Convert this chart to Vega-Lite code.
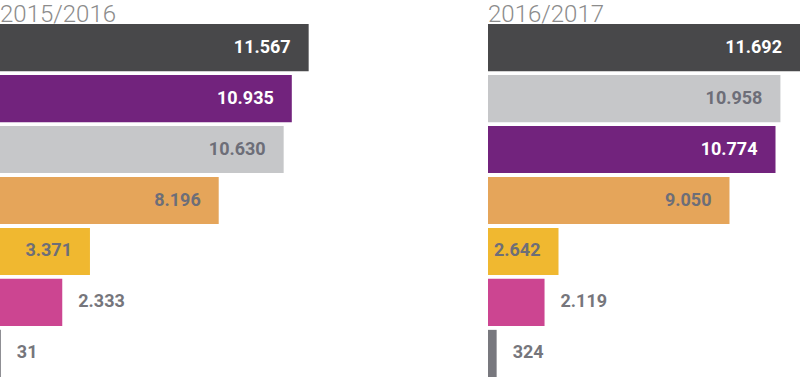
{
  "$schema": "https://vega.github.io/schema/vega-lite/v6.json",
  "padding": {"top": 3, "left": 0, "right": 0, "bottom": 0},
  "background": "white",
  "spacing": 176,
  "config": {
    "view": {"stroke": null},
    "locale": {"number": {"decimal": ",", "thousands": ".", "grouping": [3], "currency": ["", " €"]}}
  },
  "datasets": {
    "rows": [
      {"season": "2015/2016", "cat": "A", "value": 11567},
      {"season": "2015/2016", "cat": "B", "value": 10935},
      {"season": "2015/2016", "cat": "C", "value": 10630},
      {"season": "2015/2016", "cat": "D", "value": 8196},
      {"season": "2015/2016", "cat": "E", "value": 3371},
      {"season": "2015/2016", "cat": "F", "value": 2333},
      {"season": "2015/2016", "cat": "G", "value": 31},
      {"season": "2016/2017", "cat": "A", "value": 11692},
      {"season": "2016/2017", "cat": "C", "value": 10958},
      {"season": "2016/2017", "cat": "B", "value": 10774},
      {"season": "2016/2017", "cat": "D", "value": 9050},
      {"season": "2016/2017", "cat": "E", "value": 2642},
      {"season": "2016/2017", "cat": "F", "value": 2119},
      {"season": "2016/2017", "cat": "G", "value": 324}
    ]
  },
  "hconcat": [
    {
      "title": {"text": "2015/2016", "anchor": "start", "fontSize": 24, "font": "Roboto", "fontWeight": 300, "color": "#8c8c8c", "offset": -3},
      "width": 312,
      "height": 353,
      "data": {"name": "rows"},
      "transform": [{"filter": "datum.season == '2015/2016'"}],
      "encoding": {
        "y": {"field": "cat", "type": "nominal", "sort": ["A","B","C","D","E","F","G"], "axis": null, "scale": {"paddingInner": 0.075, "paddingOuter": 0}},
        "x": {"field": "value", "type": "quantitative", "axis": null, "scale": {"domain": [0, 11692], "nice": false}}
      },
      "layer": [
        {"mark": {"type": "bar", "cornerRadius": 0},
         "encoding": {"color": {"field": "cat", "type": "nominal", "legend": null, "scale": {"domain": ["A","B","C","D","E","F","G"], "range": ["#48484a","#72237d","#c6c7c9","#e5a55a","#f0b830","#cc4591","#78787e"]}}}},
        {"transform": [{"filter": "datum.value >= 2500"}],
         "mark": {"type": "text", "align": "right", "dx": -18, "font": "Roboto", "fontWeight": "bold", "fontSize": 18},
         "encoding": {"text": {"field": "value", "type": "quantitative", "format": ",d"},
           "color": {"condition": {"test": "datum.cat == 'A' || datum.cat == 'B'", "value": "#ffffff"}, "value": "#6d6e78"}}},
        {"transform": [{"filter": "datum.value < 2500"}],
         "mark": {"type": "text", "align": "left", "dx": 16, "font": "Roboto", "fontWeight": "bold", "fontSize": 18, "color": "#76767c"},
         "encoding": {"text": {"field": "value", "type": "quantitative", "format": ",d"}}}
      ]
    },
    {
      "title": {"text": "2016/2017", "anchor": "start", "fontSize": 24, "font": "Roboto", "fontWeight": 300, "color": "#8c8c8c", "offset": -3},
      "width": 312,
      "height": 353,
      "data": {"name": "rows"},
      "transform": [{"filter": "datum.season == '2016/2017'"}],
      "encoding": {
        "y": {"field": "cat", "type": "nominal", "sort": ["A","C","B","D","E","F","G"], "axis": null, "scale": {"paddingInner": 0.075, "paddingOuter": 0}},
        "x": {"field": "value", "type": "quantitative", "axis": null, "scale": {"domain": [0, 11692], "nice": false}}
      },
      "layer": [
        {"mark": {"type": "bar", "cornerRadius": 0},
         "encoding": {"color": {"field": "cat", "type": "nominal", "legend": null, "scale": {"domain": ["A","B","C","D","E","F","G"], "range": ["#48484a","#72237d","#c6c7c9","#e5a55a","#f0b830","#cc4591","#78787e"]}}}},
        {"transform": [{"filter": "datum.value >= 2500"}],
         "mark": {"type": "text", "align": "right", "dx": -18, "font": "Roboto", "fontWeight": "bold", "fontSize": 18},
         "encoding": {"text": {"field": "value", "type": "quantitative", "format": ",d"},
           "color": {"condition": {"test": "datum.cat == 'A' || datum.cat == 'B'", "value": "#ffffff"}, "value": "#6d6e78"}}},
        {"transform": [{"filter": "datum.value < 2500"}],
         "mark": {"type": "text", "align": "left", "dx": 16, "font": "Roboto", "fontWeight": "bold", "fontSize": 18, "color": "#76767c"},
         "encoding": {"text": {"field": "value", "type": "quantitative", "format": ",d"}}}
      ]
    }
  ],
  "resolve": {"scale": {"y": "independent"}}
}
